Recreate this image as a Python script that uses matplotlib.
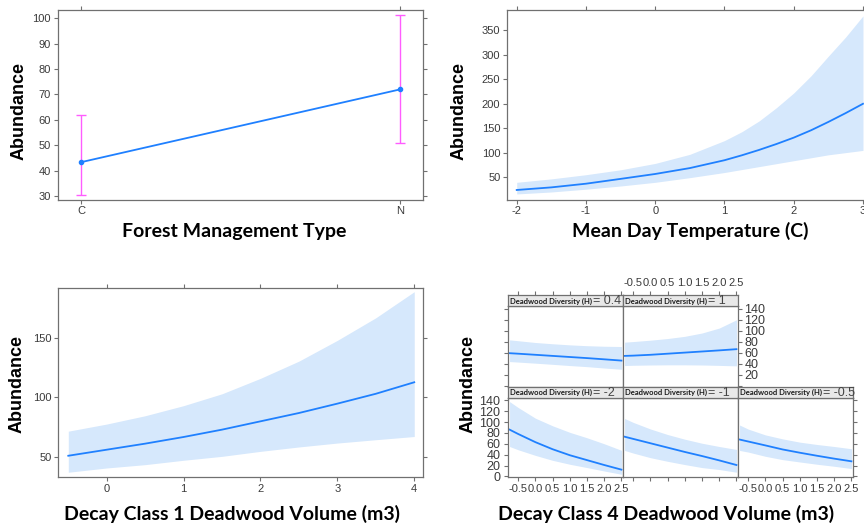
import matplotlib
matplotlib.use("Agg")
import matplotlib.pyplot as plt

plt.rcParams["axes.unicode_minus"] = False

# ---------------- data ----------------
# Forest management type effect
mgmt_types = ["C", "N"]
mgmt_fit = [43.3, 72.0]
mgmt_lower = [30.4, 51.0]
mgmt_upper = [61.8, 101.3]

# Mean day temperature effect
temp_x = [-2.0, -1.5, -1.0, -0.5, 0.0, 0.5, 1.0, 1.25, 1.5, 1.75, 2.0, 2.25, 2.5, 2.75, 3.0]
temp_fit = [24.4, 29.7, 37.2, 47.0, 57.0, 69.0, 85.0, 95.0, 106.0, 118.0, 131.0, 146.0, 163.0, 181.0, 200.0]
temp_lower = [16.3, 20.3, 26.0, 32.5, 40.0, 49.5, 60.0, 66.0, 72.0, 78.0, 84.0, 90.0, 96.0, 100.5, 105.0]
temp_upper = [40.0, 47.0, 55.5, 65.5, 78.5, 97.0, 125.0, 143.0, 165.0, 192.0, 222.0, 257.0, 297.0, 336.0, 379.0]

# Decay class 1 deadwood volume effect
dc1_x = [-0.5, 0.0, 0.5, 1.0, 1.5, 2.0, 2.5, 3.0, 3.5, 4.0]
dc1_fit = [50.8, 55.9, 61.0, 66.6, 72.8, 79.8, 86.8, 94.7, 103.0, 112.7]
dc1_lower = [36.9, 40.5, 43.3, 47.0, 50.3, 54.5, 58.2, 61.5, 64.3, 67.0]
dc1_upper = [71.5, 77.5, 84.5, 93.0, 103.0, 116.0, 130.5, 148.0, 167.0, 189.0]

# Decay class 4 deadwood volume x deadwood diversity interaction
dc4_x = [-0.75, -0.5, 0.0, 0.5, 1.0, 1.5, 2.0, 2.5]
diversity_levels = ["0.4", "1", "-2", "-1", "-0.5"]
dc4_fit = {
    "0.4": [59.4, 58.5, 56.5, 54.5, 52.5, 50.5, 48.3, 46.0],
    "1": [54.5, 55.0, 56.5, 58.5, 60.5, 62.5, 64.5, 66.7],
    "-2": [86.0, 78.0, 63.0, 50.0, 39.0, 30.0, 21.0, 12.5],
    "-1": [73.0, 69.0, 61.0, 53.0, 45.0, 37.5, 29.5, 21.0],
    "-0.5": [67.8, 64.2, 57.0, 49.6, 43.6, 38.0, 32.7, 27.8],
}
dc4_lower = {
    "0.4": [44.2, 43.3, 41.3, 39.2, 37.0, 35.0, 32.5, 30.3],
    "1": [37.0, 37.5, 38.0, 38.3, 38.3, 38.0, 37.3, 36.4],
    "-2": [55.0, 49.0, 38.7, 29.6, 22.4, 16.3, 10.0, 4.0],
    "-1": [47.8, 43.0, 34.5, 27.8, 21.8, 16.3, 12.7, 7.8],
    "-0.5": [47.8, 44.8, 37.0, 30.9, 26.6, 22.4, 18.7, 14.5],
}
dc4_upper = {
    "0.4": [83.6, 82.0, 78.8, 76.5, 74.5, 73.0, 72.0, 71.5],
    "1": [79.4, 80.5, 83.0, 86.0, 90.0, 96.0, 105.0, 120.0],
    "-2": [137.5, 126.6, 107.0, 93.0, 81.0, 71.0, 60.0, 48.0],
    "-1": [106.5, 99.3, 87.2, 77.0, 68.4, 61.0, 55.0, 49.6],
    "-0.5": [94.5, 87.0, 76.3, 69.0, 63.0, 58.7, 55.0, 50.9],
}

# ---------------- style ----------------
LINE = "#1f80ff"
BAND = "#d6e8fc"
ERR = "#ff5cff"
FRAME = "#707070"
TXT = "#3a3a3a"
STRIP = "#e8e8e8"
TICK_FONT = "Liberation Sans"

W, H = 864, 528
fig = plt.figure(figsize=(W / 100, H / 100), dpi=100)


def box(l, t, r, b):
    return [l / W, 1 - b / H, (r - l) / W, (b - t) / H]


def frame(ax, size=8):
    for s in ax.spines.values():
        s.set_color(FRAME)
        s.set_linewidth(0.9)
    ax.tick_params(direction="out", length=3, width=0.8, color=FRAME,
                   labelcolor=TXT, labelsize=size, pad=2)
    for lab in ax.get_xticklabels() + ax.get_yticklabels():
        lab.set_fontfamily(TICK_FONT)


def title_y(x, y, text):
    fig.text(x / W, 1 - y / H, text, rotation=90, ha="center", va="center",
             fontsize=13, fontweight="bold", family="Liberation Sans", color="black")


def title_x(x, y, text):
    fig.text(x / W, 1 - y / H, text, ha="center", va="baseline",
             fontsize=14, fontweight="bold", family="Lato", color="black")


# ---- Panel 1: forest management type ----
ax1 = fig.add_axes(box(58, 10, 423, 199.5))
xs = list(range(len(mgmt_types)))
ax1.errorbar(xs, mgmt_fit,
             yerr=[[f - l for f, l in zip(mgmt_fit, mgmt_lower)],
                   [u - f for f, u in zip(mgmt_fit, mgmt_upper)]],
             fmt="none", ecolor=ERR, elinewidth=1.0, capsize=3.3, capthick=1.0, zorder=2)
ax1.plot(xs, mgmt_fit, color=LINE, lw=1.3, marker="o", ms=3, zorder=3)
ax1.set_xlim(-0.072, 1.072)
ax1.set_ylim(28.6, 103.3)
ax1.set_xticks(xs)
ax1.set_xticklabels(mgmt_types)
ax1.set_yticks(range(30, 101, 10))
ax1.tick_params(top=True, right=True)
frame(ax1)
title_y(19, 111, "Abundance")
title_x(234, 237, "Forest Management Type")

# ---- Panel 2: mean day temperature ----
ax2 = fig.add_axes(box(507.3, 10, 872.4, 199.5))
ax2.fill_between(temp_x, temp_lower, temp_upper, color=BAND, lw=0)
ax2.plot(temp_x, temp_fit, color=LINE, lw=1.3)
ax2.set_xlim(-2.136, 3.136)
ax2.set_ylim(5, 391)
ax2.set_xticks(range(-2, 4))
ax2.set_yticks(range(50, 351, 50))
ax2.tick_params(top=True, right=True)
frame(ax2)
title_y(459, 111, "Abundance")
title_x(690, 237, "Mean Day Temperature (C)")

# ---- Panel 3: decay class 1 deadwood volume ----
ax3 = fig.add_axes(box(58.3, 288, 422.7, 477))
ax3.fill_between(dc1_x, dc1_lower, dc1_upper, color=BAND, lw=0)
ax3.plot(dc1_x, dc1_fit, color=LINE, lw=1.3)
ax3.set_xlim(-0.63, 4.11)
ax3.set_ylim(32.9, 192.1)
ax3.set_xticks(range(0, 5))
ax3.set_yticks([50, 100, 150])
ax3.tick_params(top=True, right=True)
frame(ax3)
title_y(17.5, 384, "Abundance")
title_x(232, 520, "Decay Class 1 Deadwood Volume (m3)")

# ---- Panel 4: decay class 4 volume by deadwood diversity ----
col_left = [507.5, 622.5, 737.5]
col_w = 115
rows = [(295, 306, 386.5), (386.5, 397.5, 477)]
placement = {"0.4": (0, 0), "1": (0, 1), "-2": (1, 0), "-1": (1, 1), "-0.5": (1, 2)}
xt4 = [-0.5, 0.0, 0.5, 1.0, 1.5, 2.0, 2.5]
xl4 = ["-0.5", "0.0", "0.5", "1.0", "1.5", "2.0", "2.5"]
yt4 = list(range(0, 141, 20))
XLIM4 = (-0.81, 2.53)
YLIM4 = (-1, 145)

for lev in diversity_levels:
    r, c = placement[lev]
    st, sb, pb = rows[r]
    l = col_left[c]
    ax = fig.add_axes(box(l, sb, l + col_w, pb))
    ax.fill_between(dc4_x, dc4_lower[lev], dc4_upper[lev], color=BAND, lw=0)
    ax.plot(dc4_x, dc4_fit[lev], color=LINE, lw=1.3)
    ax.set_xlim(*XLIM4)
    ax.set_ylim(*YLIM4)
    ax.set_xticks(xt4)
    ax.set_xticklabels(xl4)
    ax.set_yticks(yt4)
    if r == 0:
        # the lowest label on the upper right axis sits under the strip below
        ax.set_yticklabels([("" if v == 0 else str(v)) for v in yt4])
    bottom_row = r == 1
    ax.tick_params(top=False, bottom=bottom_row,
                   labelbottom=bottom_row and c in (0, 2),
                   left=(c == 0), labelleft=(c == 0 and bottom_row),
                   right=(c == 2 or (r == 0 and c == 1)),
                   labelright=(r == 0 and c == 1))
    frame(ax, size=9)
    for lab in ax.get_xticklabels():
        lab.set_fontsize(8)

    # strip
    sa = fig.add_axes(box(l, st, l + col_w, sb))
    sa.set_facecolor(STRIP)
    sa.set_xlim(*XLIM4)
    sa.set_xticks(xt4)
    sa.set_xticklabels(xl4)
    sa.set_yticks([])
    sa.tick_params(top=(r == 0), bottom=False, labelbottom=False,
                   labeltop=(r == 0 and c == 1))
    frame(sa, size=8)
    t1 = sa.text(0.02, 0.45, "Deadwood Diversity (H)", transform=sa.transAxes,
                 ha="left", va="center", fontsize=5.5, fontweight="bold",
                 family="Lato", color="#1a1a1a")
    sa.annotate("= " + lev, xy=(1, 0.5), xycoords=t1, xytext=(1, 0),
                textcoords="offset points", ha="left", va="center",
                fontsize=9, family="Liberation Sans", color="#444444")

title_y(468, 384, "Abundance")
title_x(666, 520, "Decay Class 4 Deadwood Volume (m3)")

fig.savefig("out.png", dpi=100)
